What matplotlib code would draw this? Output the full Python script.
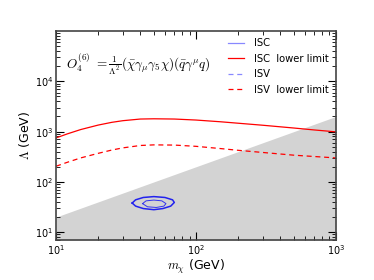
import matplotlib.pyplot as plt
import numpy as np

plt.rcParams["mathtext.fontset"] = "cm"

# red exclusion curves
mass = [10, 12, 15, 20, 25, 30, 40, 50, 70, 100, 150, 200, 300, 500, 700, 1000]
isc_lower = [750, 900, 1100, 1350, 1530, 1650, 1780, 1800, 1780, 1700, 1570, 1470, 1340, 1180, 1080, 990]
isv_lower = [205, 245, 300, 370, 430, 475, 530, 545, 540, 510, 460, 425, 385, 340, 320, 300]

# shaded region boundary
shade_x = [10, 1000]
shade_top = [20, 2000]

# blue contours
outer_x = [35, 37, 42, 50, 60, 68, 70, 66, 58, 50, 42, 37, 35]
outer_y = [38, 44, 49, 51, 49, 44, 39, 33, 29.5, 28, 29.5, 33, 38]
inner_x = [41.5, 44, 50, 57, 61, 59, 52, 45, 41.5]
inner_y = [37, 42, 43.5, 42, 37, 33, 31, 32, 37]

fig = plt.figure(figsize=(3.74, 2.80), dpi=100)
ax = fig.add_axes([0.15, 0.143, 0.748, 0.746])

ax.fill_between(shade_x, 7, shade_top, color="#d3d3d3", lw=0, zorder=0)
ax.plot(outer_x, outer_y, color="#2222ee", lw=1.1)
ax.plot(inner_x, inner_y, color="#3333ee", lw=0.7)
ax.plot(mass, isc_lower, color="red", lw=0.9)
ax.plot(mass, isv_lower, color="red", lw=0.9, ls=(0, (4, 3)))

# legend handles
ax.plot([], [], color="#8888ff", lw=0.9, label="ISC")
ax.plot([], [], color="red", lw=0.9, label="ISC  lower limit")
ax.plot([], [], color="#8888ff", lw=0.9, ls=(0, (4, 3)), label="ISV")
ax.plot([], [], color="red", lw=0.9, ls=(0, (4, 3)), label="ISV  lower limit")
ax.legend(loc="upper right", frameon=False, fontsize=7.2, handlelength=1.6,
          handletextpad=1.0, labelspacing=0.55, borderaxespad=0.3)

ax.text(0.035, 0.84,
        r"$O_4^{(6)}\ = \frac{1}{\Lambda^2}(\bar{\chi}\gamma_\mu\gamma_5\chi)(\bar{q}\gamma^\mu q)$",
        transform=ax.transAxes, fontsize=9.5, va="center")

ax.set_xscale("log")
ax.set_yscale("log")
ax.set_xlim(10, 1000)
ax.set_ylim(7, 1e5)
ax.set_yticks([10, 100, 1000, 10000])
ax.tick_params(which="both", direction="in", top=True, right=True, labelsize=7, pad=2)
ax.tick_params(which="major", length=6)
ax.tick_params(which="minor", length=3)
for s in ax.spines.values():
    s.set_linewidth(1.2)
    s.set_color("#444444")

ax.set_xlabel(r"$m_\chi$ (GeV)", fontsize=9, labelpad=1)
ax.set_ylabel(r"$\Lambda$ (GeV)", fontsize=9, labelpad=2)

fig.savefig("out.png", dpi=100)
